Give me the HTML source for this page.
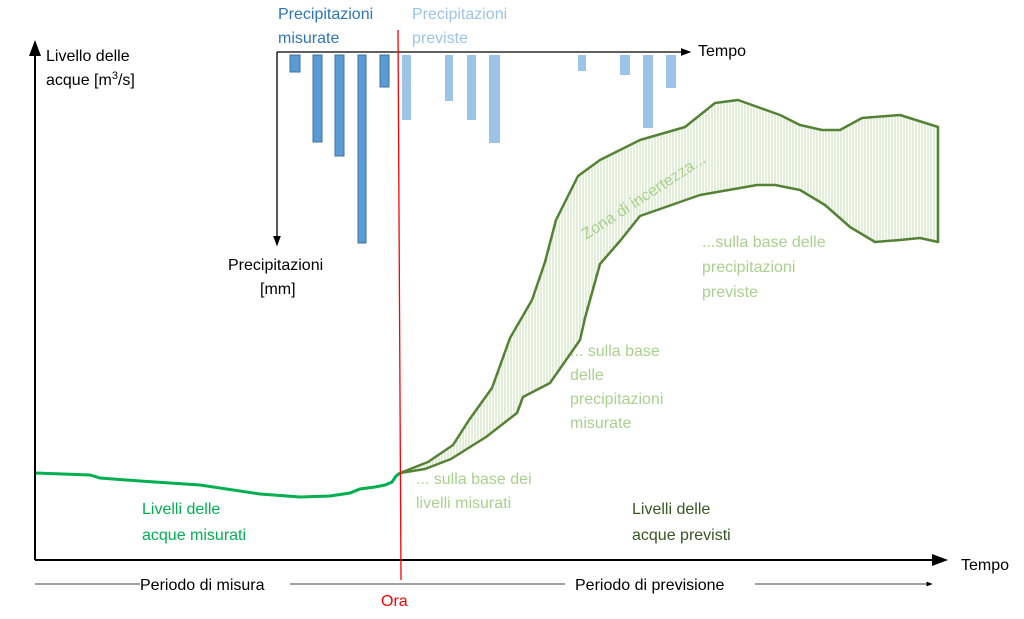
<!DOCTYPE html>
<html><head><meta charset="utf-8"><style>
body{margin:0;background:#fff;width:1024px;height:614px;overflow:hidden}
text{font-family:"Liberation Sans","DejaVu Sans",sans-serif;font-size:16px}
</style></head><body>
<svg width="1024" height="614" xmlns="http://www.w3.org/2000/svg">
<defs>
<pattern id="h" width="3" height="4" patternUnits="userSpaceOnUse"><line x1="1" y1="0" x2="1" y2="4" stroke="#c4deb0" stroke-width="1"/></pattern>
<marker id="a" markerWidth="8" markerHeight="8" refX="7" refY="4" orient="auto"><path d="M0,1 L8,4 L0,7z" fill="#000"/></marker>
</defs>
<g fill="#5b9bd5" stroke="#41719c" stroke-width="1">
<rect x="290" y="55" width="10" height="17"/><rect x="313" y="55" width="9" height="87"/><rect x="335" y="55" width="9" height="101"/><rect x="358" y="55" width="8" height="188"/><rect x="380" y="55" width="9" height="32"/></g>
<g fill="#9dc3e6">
<rect x="402" y="55" width="9" height="65"/><rect x="445" y="55" width="8" height="46"/><rect x="467" y="55" width="9" height="65"/><rect x="489" y="55" width="11" height="88"/><rect x="578" y="55" width="8" height="16"/><rect x="620" y="55" width="10" height="20"/><rect x="643" y="55" width="10" height="73"/><rect x="666" y="55" width="10" height="33"/></g>
<polygon fill="url(#h)" stroke="#548235" stroke-width="2.5" stroke-linejoin="round" points="400,473 428,462 453,445 469,420 492,388 510,338 532,300 545,262 556,220 578,176 600,160 640,140 685,127 715,103 738,100 780,115 800,125 822,130 840,130 862,118 900,115 938,127 938,242 920,238 900,240 875,242 850,227 825,205 800,190 775,185 757,185 740,188 700,195 640,216 620,241 600,264 585,318 580,340 550,383 523,397 517,413 486,437 451,459 425,469"/>
<polyline fill="none" stroke="#00b050" stroke-width="3" points="35,473 90,475 100,478 140,481 200,485 260,494 300,497 330,496 350,493 360,489 375,487 385,485 392,482 396,476 400,473"/>
<g stroke="#000" stroke-width="2" fill="none">
<line x1="35" y1="560" x2="35" y2="42" marker-end="url(#a)"/>
<line x1="35" y1="560" x2="946" y2="560" marker-end="url(#a)"/>
</g>
<g stroke="#000" stroke-width="1.3" fill="none">
<line x1="277" y1="52" x2="690" y2="52" marker-end="url(#a)"/>
<line x1="277" y1="52" x2="277" y2="245" marker-end="url(#a)"/>
<line x1="35" y1="584" x2="400" y2="584" stroke-width="0.8"/>
<line x1="400" y1="584" x2="932" y2="584" stroke-width="0.8" marker-end="url(#a)"/>
</g>
<line x1="398" y1="30" x2="401" y2="580" stroke="#ff0000" stroke-width="1.3"/>
<rect x="140" y="573" width="150" height="22" fill="#fff"/>
<rect x="565" y="573" width="190" height="22" fill="#fff"/>
<text x="46" y="61">Livello delle</text>
<text x="46" y="85">acque [m<tspan font-size="11" dy="-6">3</tspan><tspan dy="6">/s]</tspan></text>
<text x="228" y="270">Precipitazioni</text>
<text x="260" y="294">[mm]</text>
<text x="698" y="56">Tempo</text>
<text x="961" y="570">Tempo</text>
<text x="140" y="590">Periodo di misura</text>
<text x="575" y="590">Periodo di previsione</text>
<text x="381" y="606" fill="#ff0000">Ora</text>
<text x="278" y="19" fill="#2e75b6">Precipitazioni</text>
<text x="278" y="43" fill="#2e75b6">misurate</text>
<text x="412" y="19" fill="#9dc3e6">Precipitazioni</text>
<text x="412" y="43" fill="#9dc3e6">previste</text>
<g fill="#a9d18e">
<text x="416" y="484">... sulla base dei</text>
<text x="416" y="508">livelli misurati</text>
<text x="570" y="356">... sulla base</text>
<text x="570" y="380">delle</text>
<text x="570" y="404">precipitazioni</text>
<text x="570" y="428">misurate</text>
<text x="702" y="247">...sulla base delle</text>
<text x="702" y="272">precipitazioni</text>
<text x="702" y="297">previste</text>
<text transform="translate(586,240) rotate(-33)">Zona di incertezza...</text>
</g>
<text x="142" y="514" fill="#00b050">Livelli delle</text>
<text x="142" y="540" fill="#00b050">acque misurati</text>
<text x="632" y="514" fill="#375623">Livelli delle</text>
<text x="632" y="540" fill="#375623">acque previsti</text>
</svg>
</body></html>
